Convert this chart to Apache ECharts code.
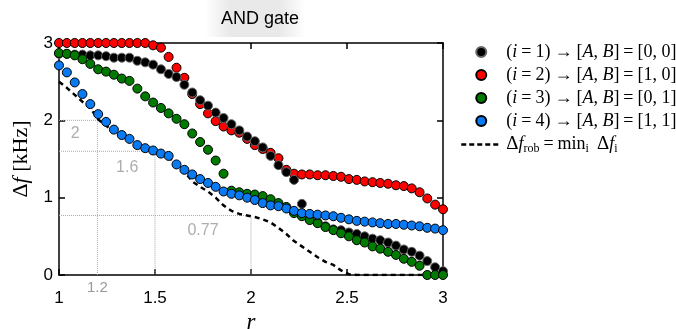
<!DOCTYPE html>
<html>
<head>
<meta charset="utf-8">
<script src="https://cdn.jsdelivr.net/npm/echarts@6/dist/echarts.min.js"></script>
<style>
  html, body { margin: 0; padding: 0; background: #fff; }
  #chart { width: 676px; height: 329px; }
</style>
</head>
<body>
<div id="chart"></div>
<script>
// r grid (50 points from 1 to 3)
const rValues = [
  1.000, 1.041, 1.082, 1.122, 1.163, 1.204, 1.245, 1.286, 1.327, 1.367,
  1.408, 1.449, 1.490, 1.531, 1.571, 1.612, 1.653, 1.694, 1.735, 1.776,
  1.816, 1.857, 1.898, 1.939, 1.980, 2.020, 2.061, 2.102, 2.143, 2.184,
  2.224, 2.265, 2.306, 2.347, 2.388, 2.429, 2.469, 2.510, 2.551, 2.592,
  2.633, 2.673, 2.714, 2.755, 2.796, 2.837, 2.878, 2.918, 2.959, 3.000
];

// delta f [kHz] per input case
const dfCase1 = [
  2.86, 2.86, 2.85, 2.85, 2.84, 2.84, 2.83, 2.81, 2.81, 2.81,
  2.77, 2.75, 2.72, 2.66, 2.60, 2.56, 2.46, 2.36, 2.26, 2.19,
  2.10, 2.03, 1.95, 1.87, 1.79, 1.73, 1.65, 1.54, 1.42, 1.33,
  1.23, 0.92, 0.72, 0.68, 0.63, 0.59, 0.58, 0.55, 0.53, 0.50,
  0.47, 0.45, 0.42, 0.38, 0.33, 0.30, 0.25, 0.18, 0.10, 0.05
];
const dfCase2 = [
  3, 3, 3, 3, 3, 3, 3, 3, 3, 3,
  3, 3, 2.97, 2.94, 2.82, 2.68, 2.55, 2.34, 2.21, 2.09,
  1.99, 1.92, 1.87, 1.84, 1.76, 1.68, 1.63, 1.58, 1.51, 1.36,
  1.31, 1.30, 1.30, 1.29, 1.29, 1.28, 1.27, 1.24, 1.23, 1.21,
  1.20, 1.19, 1.18, 1.16, 1.15, 1.12, 1.07, 0.99, 0.91, 0.85
];
const dfCase3 = [
  2.87, 2.86, 2.84, 2.79, 2.73, 2.66, 2.63, 2.59, 2.54, 2.51,
  2.41, 2.31, 2.23, 2.16, 2.09, 2.02, 1.95, 1.83, 1.72, 1.62,
  1.48, 1.31, 1.09, 1.07, 1.05, 1.04, 1.02, 0.98, 0.93, 0.88,
  0.80, 0.76, 0.71, 0.67, 0.62, 0.58, 0.54, 0.50, 0.45, 0.42,
  0.37, 0.34, 0.30, 0.26, 0.21, 0.17, 0.12, 0, 0, 0
];
const dfCase4 = [
  2.71, 2.62, 2.49, 2.34, 2.21, 2.08, 1.98, 1.88, 1.81, 1.76,
  1.68, 1.64, 1.61, 1.57, 1.54, 1.43, 1.36, 1.30, 1.24, 1.19,
  1.14, 1.08, 1.05, 1.03, 1.00, 0.97, 0.93, 0.90, 0.89, 0.86,
  0.83, 0.80, 0.79, 0.78, 0.77, 0.76, 0.74, 0.72, 0.70, 0.69,
  0.68, 0.67, 0.66, 0.66, 0.65, 0.64, 0.63, 0.61, 0.60, 0.58
];
const dfRob = [
  2.50, 2.42, 2.33, 2.24, 2.16, 2.01, 1.93, 1.86, 1.79, 1.73,
  1.66, 1.62, 1.60, 1.57, 1.52, 1.44, 1.34, 1.21, 1.14, 1.08,
  1.00, 0.90, 0.83, 0.79, 0.77, 0.75, 0.72, 0.68, 0.61, 0.53,
  0.44, 0.37, 0.30, 0.23, 0.17, 0.13, 0.06, 0.01, 0, 0,
  0, 0, 0, 0, 0, 0, 0, 0, 0, 0
];

const caseInputs = ["[0, 0]", "[1, 0]", "[0, 1]", "[1, 1]"];
const caseColors = ["#000000", "#ff0000", "#007a00", "#0a7af2"];

// marked robustness levels
const markR = [1.2, 1.5, 2.0];
const markDf = [2, 1.6, 0.77];
const markText = ["2", "1.6", "0.77"];
const markTextAt = [[1.085, 1.83], [1.355, 1.39], [1.75, 0.58]];

const xTicks = [1, 1.5, 2, 2.5, 3];

const serif = "Liberation Serif";
const sans = "Liberation Sans";

const chart = echarts.init(document.getElementById("chart"));

const toXY = (ys) => rValues.map((r, i) => [r, ys[i]]);

const caseSeries = [dfCase1, dfCase2, dfCase3, dfCase4].map((ys, i) => ({
  name: "c" + (i + 1),
  type: "scatter",
  data: toXY(ys),
  symbolSize: 9,
  itemStyle: {
    color: caseColors[i],
    borderColor: i === 0 ? "#666" : "#000",
    borderWidth: 1,
    opacity: 1,
  },
  z: 3,
}));

// red drawn under black, like the figure
const drawOrder = [caseSeries[1], caseSeries[0], caseSeries[2], caseSeries[3]];

const markSeries = markR.map((r, i) => ({
  type: "line",
  data: [[1, markDf[i]], [r, markDf[i]], [r, 0]],
  symbol: "none",
  silent: true,
  lineStyle: { color: "#aaa", width: 1, type: "dotted" },
  z: 1,
}));

const option = {
  animation: false,
  backgroundColor: "#fff",
  graphic: [
    {
      type: "rect",
      shape: { x: 205, y: 0, width: 100, height: 37 },
      style: {
        fill: new echarts.graphic.LinearGradient(0, 0, 1, 0, [
          { offset: 0, color: "rgba(232,232,232,0)" },
          { offset: 0.25, color: "#e9e9e9" },
          { offset: 0.75, color: "#e9e9e9" },
          { offset: 1, color: "rgba(232,232,232,0)" },
        ]),
      },
      z: -1,
    },
  ],
  title: {
    text: "AND gate",
    left: 255,
    top: 5,
    textAlign: "center",
    textStyle: { fontFamily: sans, fontSize: 18, fontWeight: "normal", color: "#000" },
  },
  grid: { left: 59, right: 233, top: 43, bottom: 54, containLabel: false, outerBoundsMode: "none" },
  legend: {
    data: [
      "c1", "c2", "c3", "c4",
      { name: "rob", itemStyle: { opacity: 0 }, lineStyle: { width: 2.5, type: [5, 3] } },
    ],
    orient: "vertical",
    left: 455,
    top: 38,
    itemWidth: 40,
    itemHeight: 10,
    itemGap: 5,
    formatter: (name) => {
      if (name === "rob") {
        return "{d|Δ}{it|f}{sub|rob}{r|=}min{sub|i}{sp|Δ}{it|f}{sub|i}";
      }
      const k = Number(name.slice(1));
      return "({it|i}{r|=}" + k + "){r|→}[{it|A}, {it|B}]{r|=}" + caseInputs[k - 1];
    },
    textStyle: {
      fontFamily: serif,
      fontSize: 18,
      color: "#000",
      lineHeight: 18,
      rich: {
        it: { fontFamily: serif, fontStyle: "italic", fontSize: 18, color: "#000" },
        r: { fontFamily: serif, fontSize: 18, color: "#000", padding: [0, 4, 0, 4] },
        d: { fontFamily: serif, fontSize: 19, color: "#000" },
        sp: { fontFamily: serif, fontSize: 19, color: "#000", padding: [0, 0, 0, 8] },
        sub: { fontFamily: serif, fontSize: 12, color: "#000", padding: [8, 0, 0, 0] },
      },
    },
  },
  xAxis: [
    {
      type: "value",
      min: 1,
      max: 3,
      interval: 0.5,
      position: "bottom",
      axisLine: { onZero: false, lineStyle: { color: "#000", width: 1.5 } },
      axisTick: { inside: true, length: 6, lineStyle: { color: "#000", width: 1.5 } },
      axisLabel: {
        color: "#000",
        fontFamily: sans,
        fontSize: 17,
        margin: 15,
        formatter: (v) => (xTicks.includes(v) ? String(v) : ""),
      },
      splitLine: { show: false },
      name: "r",
      nameLocation: "middle",
      nameGap: 32,
      nameTextStyle: { fontFamily: serif, fontStyle: "italic", fontSize: 23, color: "#000" },
    },
    {
      type: "value",
      min: 1,
      max: 3,
      interval: 0.5,
      position: "top",
      axisLine: { onZero: false, lineStyle: { color: "#000", width: 1.5 } },
      axisTick: { inside: true, length: 6, lineStyle: { color: "#000", width: 1.5 } },
      axisLabel: { show: false },
      splitLine: { show: false },
    },
    {
      type: "value",
      min: 1,
      max: 3,
      interval: 0.2,
      position: "bottom",
      axisLine: { show: false, onZero: false },
      axisTick: { show: false },
      axisLabel: {
        color: "#999",
        fontFamily: sans,
        fontSize: 15,
        margin: 5,
        formatter: (v) => (Math.abs(v - 1.2) < 1e-6 ? "1.2" : ""),
      },
      splitLine: { show: false },
    },
  ],
  yAxis: [
    {
      type: "value",
      min: 0,
      max: 3,
      interval: 1,
      position: "left",
      axisLine: { onZero: false, lineStyle: { color: "#000", width: 1.5 } },
      axisTick: { inside: true, length: 6, lineStyle: { color: "#000", width: 1.5 } },
      axisLabel: { color: "#000", fontFamily: sans, fontSize: 17, margin: 6 },
      splitLine: { show: false },
      name: "Δ{it|f} [kHz]",
      nameLocation: "middle",
      nameGap: 10,
      nameTextStyle: {
        fontFamily: serif,
        fontSize: 22,
        color: "#000",
        rich: { it: { fontFamily: serif, fontStyle: "italic", fontSize: 22, color: "#000" } },
      },
    },
    {
      type: "value",
      min: 0,
      max: 3,
      interval: 1,
      position: "right",
      axisLine: { onZero: false, lineStyle: { color: "#000", width: 1.5 } },
      axisTick: { inside: true, length: 6, lineStyle: { color: "#000", width: 1.5 } },
      axisLabel: { show: false },
      splitLine: { show: false },
    },
  ],
  series: [
    ...markSeries,
    {
      type: "scatter",
      data: markText.map((t, i) => [markTextAt[i][0], markTextAt[i][1], t]),
      symbolSize: 0,
      silent: true,
      label: {
        show: true,
        position: "inside",
        formatter: (p) => p.value[2],
        color: "#999",
        fontFamily: sans,
        fontSize: 16,
      },
      z: 1,
    },
    {
      name: "rob",
      type: "line",
      data: toXY(dfRob),
      symbol: "none",
      lineStyle: { color: "#000", width: 2.5, type: [5, 4] },
      itemStyle: { color: "#000" },
      z: 2,
    },
    ...drawOrder,
  ],
};

chart.setOption(option);
</script>
</body>
</html>
